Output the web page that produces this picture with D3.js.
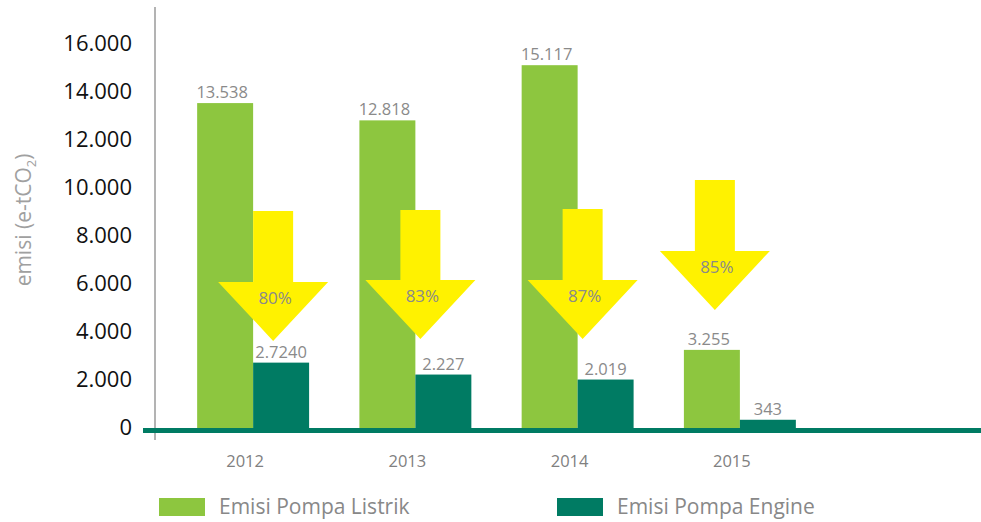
<!DOCTYPE html>
<html>
<head>
<meta charset="utf-8">
<script src="https://cdn.jsdelivr.net/npm/d3@7"></script>
<style>
  body { margin: 0; background: #fff; }
  text { font-family: "Open Sans", sans-serif; }
</style>
</head>
<body>
<div id="chart"></div>
<script>
// data
var years = ["2012", "2013", "2014", "2015"];
var seriesNames = ["Emisi Pompa Listrik", "Emisi Pompa Engine"];
var listrik = [13538, 12818, 15117, 3255];
var engine = [2724, 2227, 2019, 343];
var listrikLabels = ["13.538", "12.818", "15.117", "3.255"];
var engineLabels = ["2.7240", "2.227", "2.019", "343"];
var yTicks = [0, 2000, 4000, 6000, 8000, 10000, 12000, 14000, 16000];
var yTickLabels = ["0", "2.000", "4.000", "6.000", "8.000", "10.000", "12.000", "14.000", "16.000"];
// reduction arrows (top and tip in e-tCO2 units)
var arrowPct = ["80%", "83%", "87%", "85%"];
var arrowTop = [9040, 9080, 9120, 10330];
var arrowTip = [3630, 3710, 3710, 4920];

var colors = ["#8dc63f", "#007b63"];
var yellow = "#fff200";

var width = 981, height = 522;

var svg = d3.select("#chart")
  .append("svg")
    .attr("width", width)
    .attr("height", height);

// scales
var x0 = d3.scaleBand()
  .domain(years)
  .range([172, 821])
  .paddingInner(0.31)
  .paddingOuter(0.155);

var x1 = d3.scaleBand()
  .domain([0, 1])
  .range([0, x0.bandwidth()]);

var y = d3.scaleLinear()
  .domain([0, 16000])
  .range([428, 44]);

// y axis line
svg.append("line")
  .attr("x1", 155).attr("x2", 155)
  .attr("y1", 7).attr("y2", 440)
  .attr("stroke", "#9a9a9a")
  .attr("stroke-width", 1.5);

// y tick labels
var yAxis = svg.append("g")
  .attr("transform", "translate(132,0)")
  .call(d3.axisLeft(y).tickValues(yTicks).tickSize(0)
    .tickFormat(function(d, i) { return yTickLabels[i]; }));
yAxis.select(".domain").remove();
yAxis.selectAll("text")
  .attr("x", 0)
  .attr("dy", "0.3em")
  .style("font-size", "22px")
  .style("font-family", "'Open Sans', sans-serif")
  .attr("fill", "#111");

// y title
var yTitle = svg.append("text")
  .attr("transform", "translate(31,220) rotate(-90)")
  .attr("text-anchor", "middle")
  .attr("fill", "#a0a0a0")
  .style("font-size", "21px");
yTitle.append("tspan").text("emisi (e-tCO");
yTitle.append("tspan").attr("dy", 5).style("font-size", "13px").text("2");
yTitle.append("tspan").attr("dy", -5).text(")");

// bars
var groups = svg.selectAll(".grp")
  .data(years)
  .enter().append("g")
    .attr("class", "grp")
    .attr("transform", function(d) { return "translate(" + x0(d) + ",0)"; });

groups.append("rect")
  .attr("x", x1(0))
  .attr("width", x1.bandwidth())
  .attr("y", function(d, i) { return y(listrik[i]); })
  .attr("height", function(d, i) { return y(0) - y(listrik[i]); })
  .attr("fill", colors[0]);

groups.append("rect")
  .attr("x", x1(1))
  .attr("width", x1.bandwidth())
  .attr("y", function(d, i) { return y(engine[i]); })
  .attr("height", function(d, i) { return y(0) - y(engine[i]); })
  .attr("fill", colors[1]);

// arrows (drawn over the bars)
var arrowDx = [20, 5, 5, -25];
var shaftW = 40, headW = 110, headH = 59;
years.forEach(function(d, i) {
  var cx = x0(d) + x0.bandwidth() / 2 + arrowDx[i];
  var top = y(arrowTop[i]), tip = y(arrowTip[i]), neck = tip - headH;
  var pts = [
    [cx - shaftW / 2, top], [cx + shaftW / 2, top],
    [cx + shaftW / 2, neck], [cx + headW / 2, neck],
    [cx, tip],
    [cx - headW / 2, neck], [cx - shaftW / 2, neck]
  ];
  svg.append("path")
    .attr("d", d3.line()(pts) + "Z")
    .attr("fill", yellow);
  svg.append("text")
    .attr("x", cx + 2)
    .attr("y", neck + 22)
    .attr("text-anchor", "middle")
    .attr("fill", "#8a8a8a")
    .style("font-size", "17px")
    .text(arrowPct[i]);
});

// value labels
groups.append("text")
  .attr("x", x1(0) + x1.bandwidth() / 2 - 3)
  .attr("y", function(d, i) { return y(listrik[i]) - 5; })
  .attr("text-anchor", "middle")
  .attr("fill", "#8a8a8a")
  .style("font-size", "16.5px")
  .text(function(d, i) { return listrikLabels[i]; });

groups.append("text")
  .attr("x", x1(1) + x1.bandwidth() / 2)
  .attr("y", function(d, i) { return y(engine[i]) - 5; })
  .attr("text-anchor", "middle")
  .attr("fill", "#8a8a8a")
  .style("font-size", "16.5px")
  .text(function(d, i) { return engineLabels[i]; });

// thick baseline
svg.append("line")
  .attr("x1", 143).attr("x2", width)
  .attr("y1", y(0) + 2.5).attr("y2", y(0) + 2.5)
  .attr("stroke", colors[1])
  .attr("stroke-width", 5);

// x labels
var xAxis = svg.append("g")
  .attr("transform", "translate(-8,452)")
  .call(d3.axisBottom(x0).tickSize(0));
xAxis.select(".domain").remove();
xAxis.selectAll("text")
  .attr("fill", "#808080")
  .style("font-size", "16.5px")
  .style("font-family", "'Open Sans', sans-serif");

// legend
var legX = [159, 557];
seriesNames.forEach(function(name, i) {
  svg.append("rect")
    .attr("x", legX[i]).attr("y", 498)
    .attr("width", 46).attr("height", 18)
    .attr("fill", colors[i]);
  svg.append("text")
    .attr("x", legX[i] + 60).attr("y", 514)
    .attr("fill", "#888")
    .style("font-size", "21px")
    .text(name);
});
</script>
</body>
</html>
